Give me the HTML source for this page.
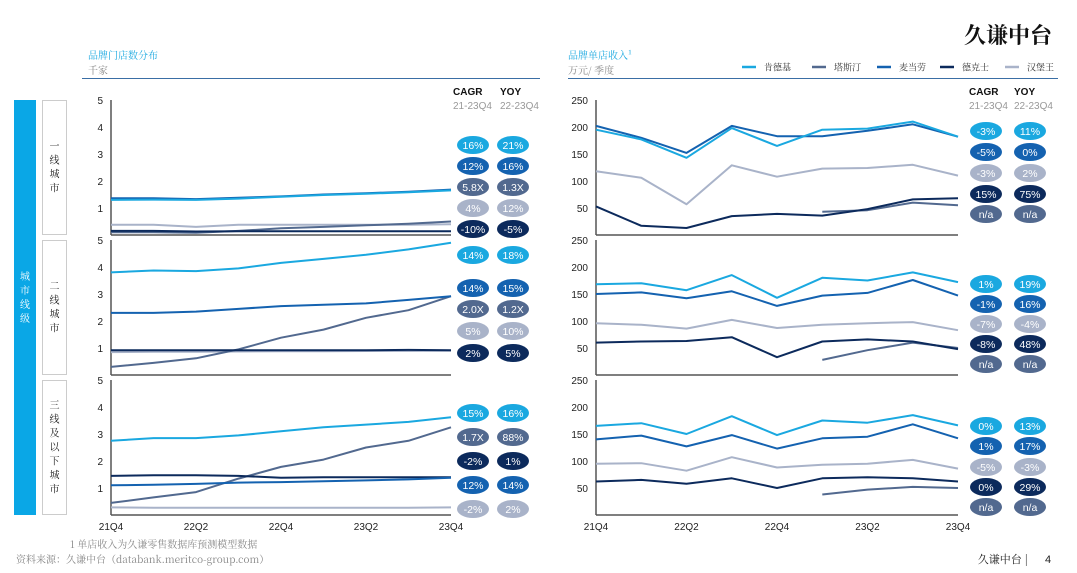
<!DOCTYPE html>
<html><head><meta charset="utf-8">
<style>
html,body{margin:0;padding:0;background:#fff;}
svg{display:block;font-family:"Liberation Sans","Noto Sans CJK SC",sans-serif;}
.cjk{font-family:"Noto Serif CJK SC","Noto Sans CJK SC",serif;}
</style></head>
<body>
<svg id="chart" width="1077" height="573" viewBox="0 0 1077 573">
<text x="1052" y="43" text-anchor="end" font-size="22" font-weight="bold" class="cjk" fill="#111">久谦中台</text>
<text x="88" y="59" font-size="10" fill="#1aa8e0" class="cjk">品牌门店数分布</text>
<text x="88" y="74" font-size="10" fill="#888" class="cjk">千家</text>
<line x1="82" y1="78.5" x2="540" y2="78.5" stroke="#3a6ea5" stroke-width="1"/>
<text x="568" y="59" font-size="10" fill="#1aa8e0" class="cjk">品牌单店收入¹</text>
<text x="568" y="74" font-size="10" fill="#888" class="cjk">万元/ 季度</text>
<line x1="568" y1="78.5" x2="1058" y2="78.5" stroke="#3a6ea5" stroke-width="1"/>
<g id="legend"></g>
<rect x="14" y="100" width="22" height="415" fill="#0aa7e6"/>
<text x="25" y="280" font-size="10" fill="#fff" text-anchor="middle" class="cjk"><tspan x="25" dy="0">城</tspan><tspan x="25" dy="14">市</tspan><tspan x="25" dy="14">线</tspan><tspan x="25" dy="14">级</tspan></text>
<g id="tiers"></g>
<g id="plots"></g>
<text x="70" y="548" font-size="10" fill="#888" class="cjk">1  单店收入为久谦零售数据库预测模型数据</text>
<text x="16" y="563" font-size="10" fill="#888" class="cjk">资料来源：久谦中台（databank.meritco-group.com）</text>
<text x="1028" y="563" font-size="11" fill="#222" text-anchor="end" class="cjk">久谦中台 |</text>
<text x="1045" y="563" font-size="11" fill="#222">4</text>
</svg>
<script>
const quarters=['21Q4','22Q1','22Q2','22Q3','22Q4','23Q1','23Q2','23Q3','23Q4'];
const xTickLabels=['21Q4','22Q2','22Q4','23Q2','23Q4'];
const brands=['肯德基','塔斯汀','麦当劳','德克士','汉堡王'];
const colors={'肯德基':'#1aa8e0','塔斯汀':'#52698f','麦当劳':'#1462b0','德克士':'#0c2a5c','汉堡王':'#a9b3c9'};
const leftTicks=[1,2,3,4,5];
const rightTicks=[50,100,150,200,250];
const tierNames=['一线城市','二线城市','三线及以下城市'];
// store counts (thousand)
const storesT1={'肯德基':[1.30,1.31,1.30,1.35,1.42,1.48,1.53,1.58,1.65],'麦当劳':[1.36,1.36,1.33,1.38,1.43,1.50,1.55,1.60,1.68],'塔斯汀':[0.10,0.10,0.08,0.15,0.25,0.30,0.36,0.42,0.50],'汉堡王':[0.38,0.38,0.30,0.38,0.38,0.38,0.38,0.38,0.40],'德克士':[0.15,0.15,0.13,0.14,0.14,0.14,0.14,0.14,0.14]};
const storesT2={'肯德基':[3.80,3.87,3.85,3.95,4.15,4.30,4.45,4.65,4.90],'麦当劳':[2.30,2.30,2.35,2.45,2.55,2.60,2.65,2.78,2.92],'塔斯汀':[0.30,0.45,0.62,0.95,1.38,1.68,2.12,2.40,2.92],'德克士':[0.92,0.92,0.92,0.92,0.92,0.92,0.92,0.93,0.92],'汉堡王':[0.85,0.86,0.86,0.87,0.88,0.88,0.89,0.89,0.90]};
const storesT3={'肯德基':[2.75,2.85,2.85,2.95,3.10,3.25,3.35,3.45,3.62],'塔斯汀':[0.45,0.65,0.85,1.35,1.78,2.05,2.50,2.75,3.25],'德克士':[1.45,1.47,1.47,1.45,1.38,1.40,1.40,1.40,1.40],'麦当劳':[1.10,1.12,1.15,1.20,1.22,1.25,1.28,1.32,1.38],'汉堡王':[0.28,0.27,0.27,0.27,0.27,0.27,0.27,0.27,0.28]};
// revenue per store (10k CNY / quarter); null = no data
const revT1={'肯德基':[195,177,143,198,165,195,197,210,182],'麦当劳':[202,180,152,202,183,183,193,205,182],'汉堡王':[118,106,57,129,108,123,124,130,110],'德克士':[53,17,13,35,39,36,48,66,68],'塔斯汀':[null,null,null,null,null,43,46,60,55]};
const revT2={'肯德基':[168,170,157,185,143,180,175,190,172],'麦当劳':[150,153,142,155,128,147,152,176,147],'汉堡王':[96,93,86,102,87,93,96,98,83],'德克士':[60,62,63,70,33,62,66,62,48],'塔斯汀':[null,null,null,null,null,28,46,60,50]};
const revT3={'肯德基':[165,170,150,183,148,175,171,185,166],'麦当劳':[140,147,127,148,123,142,145,168,142],'汉堡王':[95,96,82,107,88,93,95,102,86],'德克士':[62,65,58,68,50,68,70,68,62],'塔斯汀':[null,null,null,null,null,38,47,52,50]};
// pills: [brand, cagr, yoy]
const pillsL1=[['肯德基','16%','21%'],['麦当劳','12%','16%'],['塔斯汀','5.8X','1.3X'],['汉堡王','4%','12%'],['德克士','-10%','-5%']];
const pillsL2=[['肯德基','14%','18%'],['麦当劳','14%','15%'],['塔斯汀','2.0X','1.2X'],['汉堡王','5%','10%'],['德克士','2%','5%']];
const pillsL3=[['肯德基','15%','16%'],['塔斯汀','1.7X','88%'],['德克士','-2%','1%'],['麦当劳','12%','14%'],['汉堡王','-2%','2%']];
const pillsR1=[['肯德基','-3%','11%'],['麦当劳','-5%','0%'],['汉堡王','-3%','2%'],['德克士','15%','75%'],['塔斯汀','n/a','n/a']];
const pillsR2=[['肯德基','1%','19%'],['麦当劳','-1%','16%'],['汉堡王','-7%','-4%'],['德克士','-8%','48%'],['塔斯汀','n/a','n/a']];
const pillsR3=[['肯德基','0%','13%'],['麦当劳','1%','17%'],['汉堡王','-5%','-3%'],['德克士','0%','29%'],['塔斯汀','n/a','n/a']];

const NS='http://www.w3.org/2000/svg';
function mk(tag,attrs,parent){const e=document.createElementNS(NS,tag);for(const k in attrs)e.setAttribute(k,attrs[k]);parent.appendChild(e);return e;}
const svg=document.getElementById('chart');
const plots=document.getElementById('plots');
const panelsY=[[100,235],[240,375],[380,515]];

// legend
const lg=document.getElementById('legend');
const lgx=[742,812,877,940,1005];
brands.forEach((b,i)=>{
  const g=mk('g',{},lg);
  
  
  mk('line',{x1:lgx[i],y1:67,x2:lgx[i]+14,y2:67,stroke:colors[b],'stroke-width':2.5},g);
  const t=mk('text',{x:lgx[i]+22,y:70.5,'font-size':9,fill:'#333',class:'cjk'},g);t.textContent=b;
});
// tier boxes
const tg=document.getElementById('tiers');
tierNames.forEach((n,i)=>{
  const [y0,y1]=panelsY[i];
  const r=mk('rect',{x:42.5,y:y0+0.5,width:24,height:y1-y0-1,fill:'#fff',stroke:'#ccc'},tg);
  
  
  const t=mk('text',{'font-size':10,fill:'#222','text-anchor':'middle',class:'cjk'},tg);
  
  
  const chars=[...n];const startY=(y0+y1)/2-(chars.length-1)*7+3;
  chars.forEach((c,k)=>{const s=mk('tspan',{x:54.5,y:startY+k*14},t);s.textContent=c;});
});

function drawPanel(cfg){
  const {x0,x1,y0,y1,max,ticks,series,pills,cx,cy,showX}=cfg;
  const g=mk('g',{},plots);
  
  
  const X=i=>x0+(x1-x0)*i/(quarters.length-1);
  const Y=v=>y1-(y1-y0)*v/max;
  ticks.forEach(t=>{const e=mk('text',{x:x0-8,y:Y(t)+4,'font-size':10,fill:'#222','text-anchor':'end'},g);e.textContent=t;
    });
  mk('line',{x1:x0,y1:y0,x2:x0,y2:y1,stroke:'#555','stroke-width':1.5},g);
  mk('line',{x1:x0,y1:y1,x2:x1,y2:y1,stroke:'#555','stroke-width':1.5},g);
  const order=['汉堡王','塔斯汀','德克士','麦当劳','肯德基'];
  order.forEach(b=>{
    const vals=series[b];let d='';let pen=false;
    vals.forEach((v,i)=>{if(v==null){pen=false;return;}d+=(pen?'L':'M')+X(i).toFixed(1)+','+Y(v).toFixed(1);pen=true;});
    const p=mk('path',{d,fill:'none',stroke:colors[b],'stroke-width':2,'stroke-linejoin':'round'},g);
    
    
  });
  if(showX){xTickLabels.forEach(q=>{const i=quarters.indexOf(q);const e=mk('text',{x:X(i),y:y1+15,'font-size':10,fill:'#222','text-anchor':'middle'},g);e.textContent=q;
    });}
  pills.forEach((p,k)=>{
    [p[1],p[2]].forEach((txt,j)=>{
      const px=cx[j];const py=cy[k];
      const pg=mk('g',{},g);
      
      
      mk('ellipse',{cx:px,cy:py,rx:16,ry:9,fill:colors[p[0]]},pg);
      const t=mk('text',{x:px,y:py+4,'font-size':10.5,fill:'#fff','text-anchor':'middle'},pg);t.textContent=txt;
    });
  });
}
const lcy=[[145,166,187,208,229],[255,288,309,331,353],[413,437,461,485,509]];
const rcy=[[131,152,173,194,214],[284,304,324,344,364],[426,446,467,487,507]];
[storesT1,storesT2,storesT3].forEach((s,i)=>drawPanel({name:'store-count-panel-'+(i+1),x0:111,x1:451,y0:panelsY[i][0],y1:panelsY[i][1],max:5,ticks:leftTicks.concat([]).filter(t=>true),series:s,pills:[pillsL1,pillsL2,pillsL3][i],cx:[473,513],cy:lcy[i],showX:i==2}));
[revT1,revT2,revT3].forEach((s,i)=>drawPanel({name:'revenue-panel-'+(i+1),x0:596,x1:958,y0:panelsY[i][0],y1:panelsY[i][1],max:250,ticks:rightTicks,series:s,pills:[pillsR1,pillsR2,pillsR3][i],cx:[986,1030],cy:rcy[i],showX:i==2}));
// CAGR/YOY headers
[[453,500],[969,1014]].forEach(([a,b])=>{
  let t=mk('text',{x:a,y:95,'font-size':10,'font-weight':'bold',fill:'#111'},svg);t.textContent='CAGR';
  
  t=mk('text',{x:b,y:95,'font-size':10,'font-weight':'bold',fill:'#111'},svg);t.textContent='YOY';
  
  t=mk('text',{x:a,y:109,'font-size':10,fill:'#999'},svg);t.textContent='21-23Q4';
  
  t=mk('text',{x:b,y:109,'font-size':10,fill:'#999'},svg);t.textContent='22-23Q4';
  
});
</script>
</body></html>
